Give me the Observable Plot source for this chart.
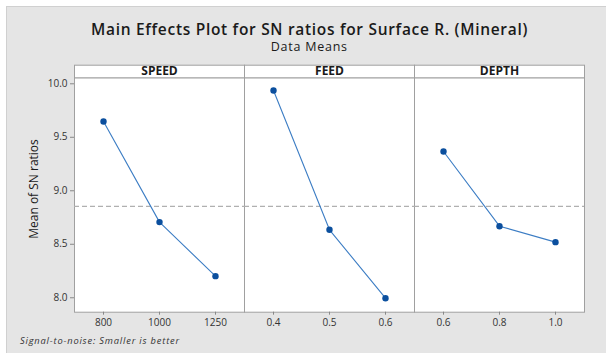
<!DOCTYPE html>
<html><head><meta charset="utf-8">
<script src="https://cdn.jsdelivr.net/npm/d3@7"></script>
<script src="https://cdn.jsdelivr.net/npm/@observablehq/plot@0.6"></script>
<style>
html,body{margin:0;padding:0;background:#fff;width:606px;height:353px;overflow:hidden;font-family:"Open Sans",sans-serif;}
#bg{position:absolute;left:6px;top:6px;width:600px;height:347px;background:#e5e5e5;border-left:1px solid #d0d0d0;border-top:1px solid #d0d0d0;box-sizing:border-box;}
.t{position:absolute;white-space:nowrap;line-height:1;color:#1a1a1a;}
#chart{position:absolute;left:0;top:56px;}
</style></head><body>
<div id="bg"></div>
<div id="title" class="t"></div>
<div id="subtitle" class="t"></div>
<div id="chart"></div>
<div id="caption" class="t"></div>
<script>
const factors = ["SPEED", "FEED", "DEPTH"];
const speedLevels = ["800", "1000", "1250"];
const feedLevels = ["0.4", "0.5", "0.6"];
const depthLevels = ["0.6", "0.8", "1.0"];
const speedSN = [9.648, 8.707, 8.202];
const feedSN = [9.937, 8.635, 7.996];
const depthSN = [9.367, 8.669, 8.520];
const yTicks = [8.0, 8.5, 9.0, 9.5, 10.0];
const yDomain = [7.865, 10.056];
const titleText = "Main Effects Plot for SN ratios for Surface R. (Mineral)";
const subtitleText = "Data Means";
const captionText = "Signal-to-noise: Smaller is better";
const yLabel = "Mean of SN ratios";

const levelSets = [speedLevels, feedLevels, depthLevels];
const snSets = [speedSN, feedSN, depthSN];
const rows = [];
factors.forEach((f, k) => levelSets[k].forEach((lv, i) => rows.push({factor: f, level: lv, idx: i, sn: snSets[k][i]})));
const grandMean = d3.mean(rows, d => d.sn);

const W = 606, H = 280, mT = 21.3, mB = 24.3, mL = 73, mR = 21;
const plotH = H - mT - mB;
const font = '"Open Sans", sans-serif';

const chart = Plot.plot({
  width: W, height: H, marginTop: mT, marginBottom: mB, marginLeft: mL, marginRight: mR,
  style: {background: "transparent", fontFamily: font, color: "#333", overflow: "visible"},
  fx: {domain: factors, padding: 0, axis: null},
  x: {type: "point", domain: [0, 1, 2], padding: 0.5},
  y: {domain: yDomain},
  marks: [
    Plot.frame({fill: "white", stroke: "#a0a0a0"}),
    Plot.frame({fill: "white", stroke: "#a0a0a0", insetTop: -12.6, insetBottom: plotH}),
    Plot.text(factors, {fx: d => d, text: d => d, frameAnchor: "top", dy: -6.3, lineAnchor: "middle",
      fontSize: 12, fontWeight: "bold", fill: "#1a1a1a", style: "letter-spacing:1.2px"}),
    Plot.axisY({ticks: yTicks, tickFormat: d3.format(".1f"), tickSize: 4, tickPadding: 3, fontSize: 10,
      stroke: "#888", fill: "#333", label: null}),
    Plot.text([{factor: factors[0], label: yLabel}], {fx: "factor", text: "label", frameAnchor: "left",
      textAnchor: "middle", rotate: -90, dx: -40.3, dy: -6, lineAnchor: "middle", fontSize: 12, fill: "#1a1a1a"}),
    Plot.axisX({ticks: [0, 1, 2], tickSize: 3, tickFormat: () => "", label: null, stroke: "#888"}),
    Plot.text(rows, {fx: "factor", x: "idx", text: "level", frameAnchor: "bottom", dy: 11, lineAnchor: "middle", fontSize: 10, fill: "#333"}),
    Plot.ruleY([grandMean], {stroke: "#b0b0b0", strokeWidth: 1.2, strokeDasharray: "5,3"}),
    Plot.line(rows, {fx: "factor", x: "idx", y: "sn", stroke: "#3c7dc4", strokeWidth: 1.1}),
    Plot.dot(rows, {fx: "factor", x: "idx", y: "sn", r: 3.2, fill: "#0b4f9e"})
  ]
});
document.getElementById("chart").appendChild(chart);

const ctx = document.createElement("canvas").getContext("2d");
function place(id, text, {weight = 400, style = "normal", size, width, cy, cx, left}) {
  const el = document.getElementById(id);
  el.textContent = text;
  ctx.font = `${style} ${weight} ${size}px "Open Sans"`;
  const w = ctx.measureText(text).width;
  const ls = (width - w) / text.length;
  el.style.fontFamily = font;
  el.style.fontSize = size + "px";
  el.style.fontWeight = weight;
  el.style.fontStyle = style;
  el.style.letterSpacing = ls + "px";
  el.style.top = (cy - 0.531 * size) + "px";
  el.style.left = (cx != null ? cx - width / 2 : left) + "px";
}
place("title", titleText, {weight: 600, size: 15.5, width: 437, cy: 30.6, cx: 309.5});
place("subtitle", subtitleText, {weight: 400, size: 12.5, width: 77, cy: 47.8, cx: 309.3});
place("caption", captionText, {weight: 400, style: "italic", size: 9.3, width: 160, cy: 340.5, left: 20});
document.getElementById("caption").style.color = "#333";
</script>
</body></html>
